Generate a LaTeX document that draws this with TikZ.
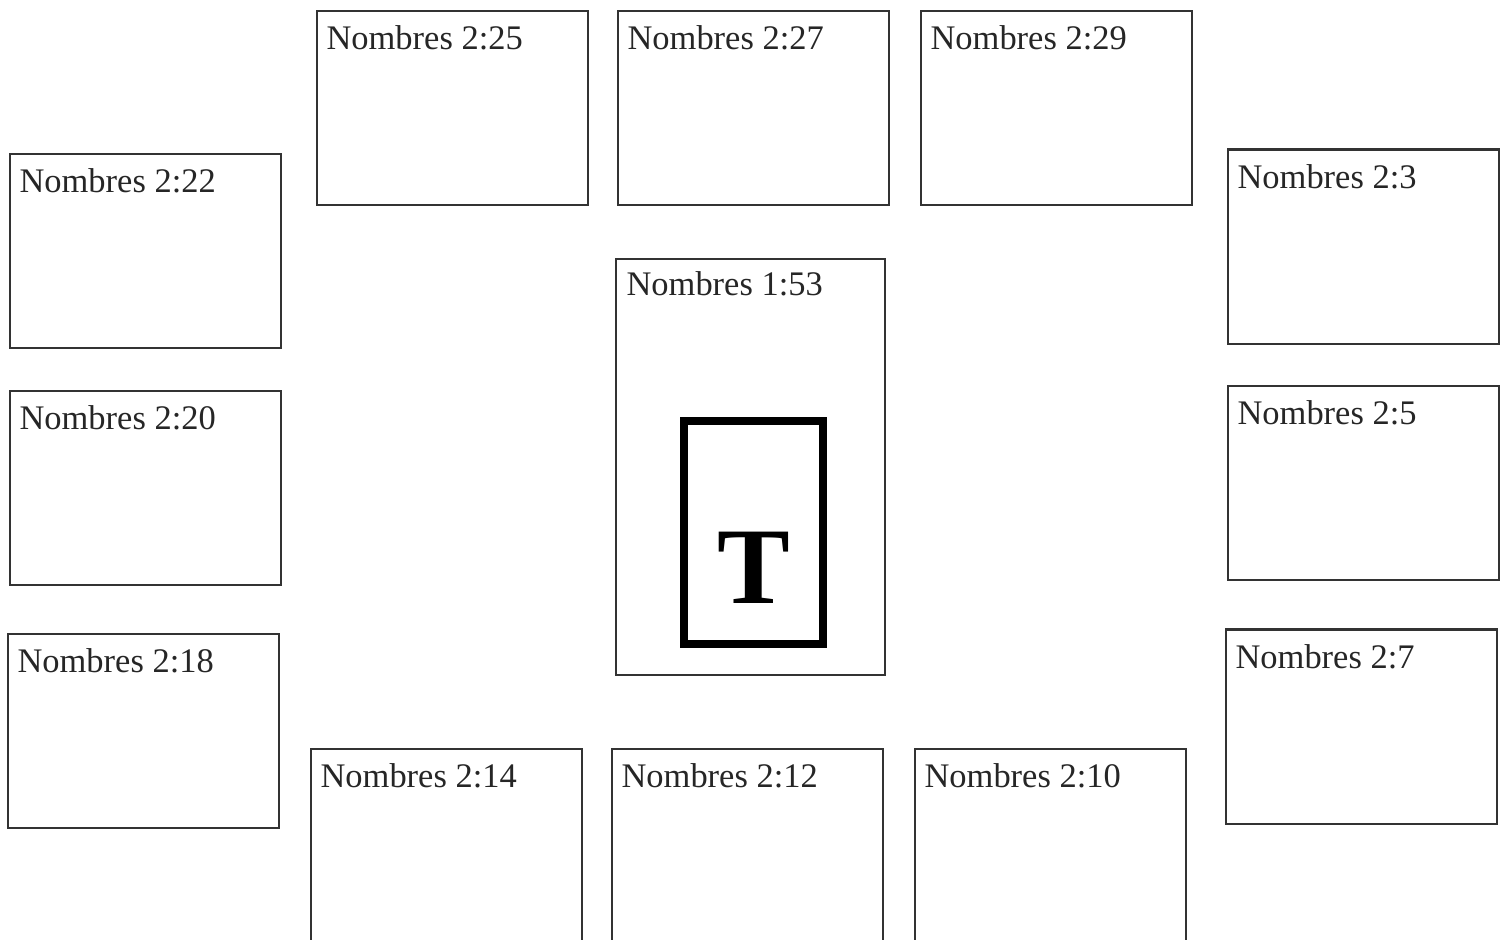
\documentclass[tikz,border=0pt]{standalone}
\usepackage{fontspec}
\setmainfont{Liberation Serif}
\usepackage{tikz}
\usetikzlibrary{positioning}

\tikzset{
  verse box/.style={draw=black!80, line width=0.6pt, minimum width=2.71cm,
    minimum height=1.94cm, inner sep=0pt},
  verse label/.style={anchor=base west, inner sep=0pt, text=black!85,
    font=\fontsize{9.8}{12}\selectfont},
}

\begin{document}
\begin{tikzpicture}[x=0.01cm, y=-0.01cm]
  \useasboundingbox (0,0) rectangle (1509,939);
  \clip (0,0) rectangle (1509,939);

  % --- the twelve boxes round the centre ---
  \foreach \nm/\x/\y/\ref in {b225/452.5/108/2:25, b227/753.5/108/2:27,
      b229/1056.5/108/2:29, b222/145.5/251/2:22, b220/145.5/488/2:20,
      b218/143.5/731/2:18, b214/446.5/846/2:14, b212/747.5/846/2:12,
      b210/1050.5/846/2:10, b23/1363.5/246.5/2:3, b25/1363.5/483/2:5,
      b27/1361.5/726.5/2:7}{
    \node[verse box] (\nm) at (\x,\y) {};
    \node[verse label] (\nm-l) at ([shift={(10,40)}]\nm.north west)
         {Nombres \ref};
  }

  % --- centre box with the tent ---
  \node[verse box, minimum width=2.69cm, minimum height=4.16cm] (b153)
       at (750.5,467) {};
  \node[verse label] (b153-l) at ([shift={(11,38)}]b153.north west)
       {Nombres 1:53};
  \node[draw=black, line width=2.3pt, minimum width=1.39cm,
        minimum height=2.23cm, inner sep=0pt] (tent) at (753.5,532.5) {};
  \node[anchor=base, inner sep=0pt, font=\fontsize{31}{34}\selectfont\bfseries]
       (tletter) at (754,603) {T};
\end{tikzpicture}
\end{document}
